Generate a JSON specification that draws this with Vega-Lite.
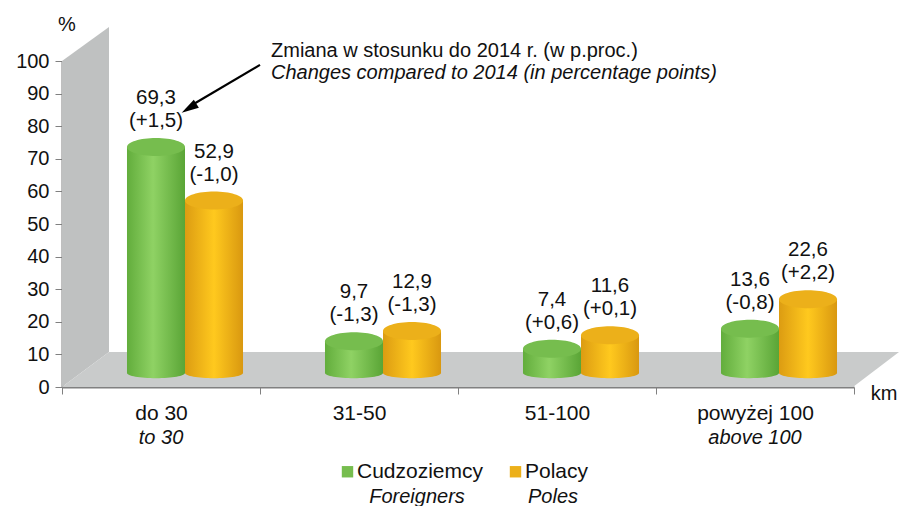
{
"$schema":"https://vega.github.io/schema/vega-lite/v6.json",
"width":792,"height":326,
"autosize":"none",
"padding":{"left":62,"top":61,"right":45,"bottom":119},
"background":"white",
"config":{"view":{"stroke":null},"font":"Liberation Sans","text":{"font":"Liberation Sans","color":"#111111"}},
"datasets":{
"main":[
{"cat":"do 30","series":"Cudzoziemcy","value":69.3,"label":"69,3\n(+1,5)"},
{"cat":"do 30","series":"Polacy","value":52.9,"label":"52,9\n(-1,0)"},
{"cat":"31-50","series":"Cudzoziemcy","value":9.7,"label":"9,7\n(-1,3)"},
{"cat":"31-50","series":"Polacy","value":12.9,"label":"12,9\n(-1,3)"},
{"cat":"51-100","series":"Cudzoziemcy","value":7.4,"label":"7,4\n(+0,6)"},
{"cat":"51-100","series":"Polacy","value":11.6,"label":"11,6\n(+0,1)"},
{"cat":"powyżej 100","series":"Cudzoziemcy","value":13.6,"label":"13,6\n(-0,8)"},
{"cat":"powyżej 100","series":"Polacy","value":22.6,"label":"22,6\n(+2,2)"}
],
"cats":[{"cat":"do 30","en":"to 30"},{"cat":"31-50","en":""},{"cat":"51-100","en":""},{"cat":"powyżej 100","en":"above 100"}]
},
"layer":[
{
"layer":[
{"data":{"values":[{"gx":0,"lo":0,"hi":100},{"gx":47,"lo":10.7,"hi":110.4}]},
"mark":{"type":"area","color":"#bfc1c1","orient":"vertical"},
"encoding":{"x":{"field":"gx","type":"quantitative","scale":{"domain":[0,792],"nice":false,"zero":false},"axis":null},
"y":{"field":"lo","type":"quantitative","scale":{"domain":[0,100],"nice":false},"axis":null},"y2":{"field":"hi"}}},
{"data":{"values":[{"gx":0,"lo":0,"hi":0},{"gx":47,"lo":0,"hi":10.7},{"gx":791,"lo":0,"hi":10.7},{"gx":837,"lo":10.7,"hi":10.7}]},
"mark":{"type":"area","color":"#c9cbcb","orient":"vertical"},
"encoding":{"x":{"field":"gx","type":"quantitative"},"y":{"field":"lo","type":"quantitative"},"y2":{"field":"hi"}}},
{"data":{"values":[{"gx":198,"gy":98.8},{"gx":130,"gy":86.5}]},
"mark":{"type":"line","color":"#000000","strokeWidth":2.2},
"encoding":{"x":{"field":"gx","type":"quantitative"},"y":{"field":"gy","type":"quantitative"},"order":{"field":"gx"}}},
{"data":{"values":[{"gx":127,"gy":85.5}]},
"mark":{"type":"point","shape":"M0,-1L0.55,1L-0.55,1Z","filled":true,"color":"#000000","size":300,"angle":238,"opacity":1},
"encoding":{"x":{"field":"gx","type":"quantitative"},"y":{"field":"gy","type":"quantitative"}}},
{"data":{"values":[{"t":"%","gx":5,"gy":111},{"t":"km","gx":822,"gy":-2}]},
"mark":{"type":"text","fontSize":20,"align":"center","baseline":"middle"},
"encoding":{"x":{"field":"gx","type":"quantitative"},"y":{"field":"gy","type":"quantitative"},"text":{"field":"t"}}},
{"data":{"values":[{"t":"Zmiana w stosunku do 2014 r. (w p.proc.)","gx":209,"gy":103}]},
"mark":{"type":"text","fontSize":20,"align":"left","baseline":"middle"},
"encoding":{"x":{"field":"gx","type":"quantitative"},"y":{"field":"gy","type":"quantitative"},"text":{"field":"t"}}},
{"data":{"values":[{"t":"Changes compared to 2014 (in percentage points)","gx":209,"gy":96.3}]},
"mark":{"type":"text","fontSize":20,"fontStyle":"italic","align":"left","baseline":"middle"},
"encoding":{"x":{"field":"gx","type":"quantitative"},"y":{"field":"gy","type":"quantitative"},"text":{"field":"t"}}}
]
},
{
"data":{"name":"cats"},
"mark":{"type":"text","fontSize":20,"fontStyle":"italic","dy":51,"baseline":"middle"},
"encoding":{
"x":{"field":"cat","type":"nominal","sort":null,"scale":{"domain":["do 30","31-50","51-100","powyżej 100"],"paddingInner":0,"paddingOuter":0},
"axis":{"orient":"bottom","title":null,"labelAngle":0,"labelFontSize":21,"labelColor":"#111111","labelPadding":8,"tickSize":7,"tickBand":"extent","domainColor":"#808080","tickColor":"#808080","domainWidth":2,"tickWidth":1,"grid":false,"labelFont":"Liberation Sans"}},
"y":{"datum":0,"type":"quantitative","scale":{"domain":[0,100],"nice":false},
"axis":{"orient":"left","title":null,"values":[0,10,20,30,40,50,60,70,80,90,100],"labelFontSize":20,"labelColor":"#111111","labelPadding":6,"tickSize":7,"domainColor":"#808080","tickColor":"#808080","domainWidth":2,"tickWidth":1,"grid":false,"labelFont":"Liberation Sans"}},
"text":{"field":"en"}
}
},
{
"data":{"name":"main"},
"encoding":{
"x":{"field":"cat","type":"nominal","sort":null,"axis":null,"scale":{"domain":["do 30","31-50","51-100","powyżej 100"],"range":[24,816],"paddingInner":0.414,"paddingOuter":0.207}},
"xOffset":{"field":"series","type":"nominal","scale":{"domain":["Cudzoziemcy","Polacy"]}},
"y":{"field":"value","type":"quantitative","axis":null,"scale":{"domain":[-4.3,95.7],"nice":false,"zero":false}}
},
"layer":[
{"transform":[{"filter":"datum.series==='Cudzoziemcy'"}],
"mark":{"type":"bar","color":{"x1":0,"x2":1,"y1":0,"y2":0,"gradient":"linear","stops":[{"offset":0,"color":"#62ad3c"},{"offset":0.45,"color":"#8fd264"},{"offset":1,"color":"#5aa536"}]}},
"encoding":{"y2":{"datum":0}}},
{"transform":[{"filter":"datum.series==='Cudzoziemcy'"}],
"mark":{"type":"point","filled":true,"opacity":1,"size":3364,"shape":"M-1,0A1,.18 0 1,0 1,0A1,.18 0 1,0 -1,0Z","color":{"x1":0,"x2":1,"y1":0,"y2":0,"gradient":"linear","stops":[{"offset":0,"color":"#62ad3c"},{"offset":0.45,"color":"#8fd264"},{"offset":1,"color":"#5aa536"}]}},
"encoding":{"y":{"datum":0,"type":"quantitative"}}},
{"transform":[{"filter":"datum.series==='Polacy'"}],
"mark":{"type":"bar","color":{"x1":0,"x2":1,"y1":0,"y2":0,"gradient":"linear","stops":[{"offset":0,"color":"#dc9c12"},{"offset":0.5,"color":"#ffc91e"},{"offset":1,"color":"#d99810"}]}},
"encoding":{"y2":{"datum":0}}},
{"transform":[{"filter":"datum.series==='Polacy'"}],
"mark":{"type":"point","filled":true,"opacity":1,"size":3364,"shape":"M-1,0A1,.18 0 1,0 1,0A1,.18 0 1,0 -1,0Z","color":{"x1":0,"x2":1,"y1":0,"y2":0,"gradient":"linear","stops":[{"offset":0,"color":"#dc9c12"},{"offset":0.5,"color":"#ffc91e"},{"offset":1,"color":"#d99810"}]}},
"encoding":{"y":{"datum":0,"type":"quantitative"}}},
{"mark":{"type":"point","filled":true,"opacity":1,"size":3364,"shape":"M-1,0A1,.31 0 1,0 1,0A1,.31 0 1,0 -1,0Z"},
"encoding":{"color":{"field":"series","type":"nominal","scale":{"domain":["Cudzoziemcy","Polacy"],"range":["#76bd4e","#ecb01a"]},
"legend":{"title":null,"orient":"none","legendX":275,"legendY":400,"direction":"horizontal","columns":2,"symbolType":"square","symbolSize":130,"symbolOpacity":1,"labelFontSize":21,"labelColor":"#111111","labelFont":"Liberation Sans","columnPadding":21,"labelOffset":-1}}}},
{"mark":{"type":"text","fontSize":20.5,"lineHeight":23,"baseline":"bottom","align":"center","dy":-39,"lineBreak":"\n"},
"encoding":{"text":{"field":"label"}}}
]
},
{
"data":{"values":[{"t":"Foreigners"}]},
"mark":{"type":"text","fontSize":20,"fontStyle":"italic","baseline":"middle","dx":355,"dy":110},
"encoding":{"x":{"datum":0,"type":"quantitative","scale":{"domain":[0,792],"nice":false},"axis":null},"y":{"datum":0,"type":"quantitative","scale":{"domain":[0,100],"nice":false},"axis":null},"text":{"field":"t"}}
},
{
"data":{"values":[{"t":"Poles"}]},
"mark":{"type":"text","fontSize":20,"fontStyle":"italic","baseline":"middle","dx":491,"dy":110},
"encoding":{"x":{"datum":0,"type":"quantitative","scale":{"domain":[0,792],"nice":false},"axis":null},"y":{"datum":0,"type":"quantitative","scale":{"domain":[0,100],"nice":false},"axis":null},"text":{"field":"t"}}
}
],
"resolve":{"scale":{"x":"independent","y":"independent","color":"independent","xOffset":"independent"},"axis":{"x":"independent","y":"independent"}}
}
